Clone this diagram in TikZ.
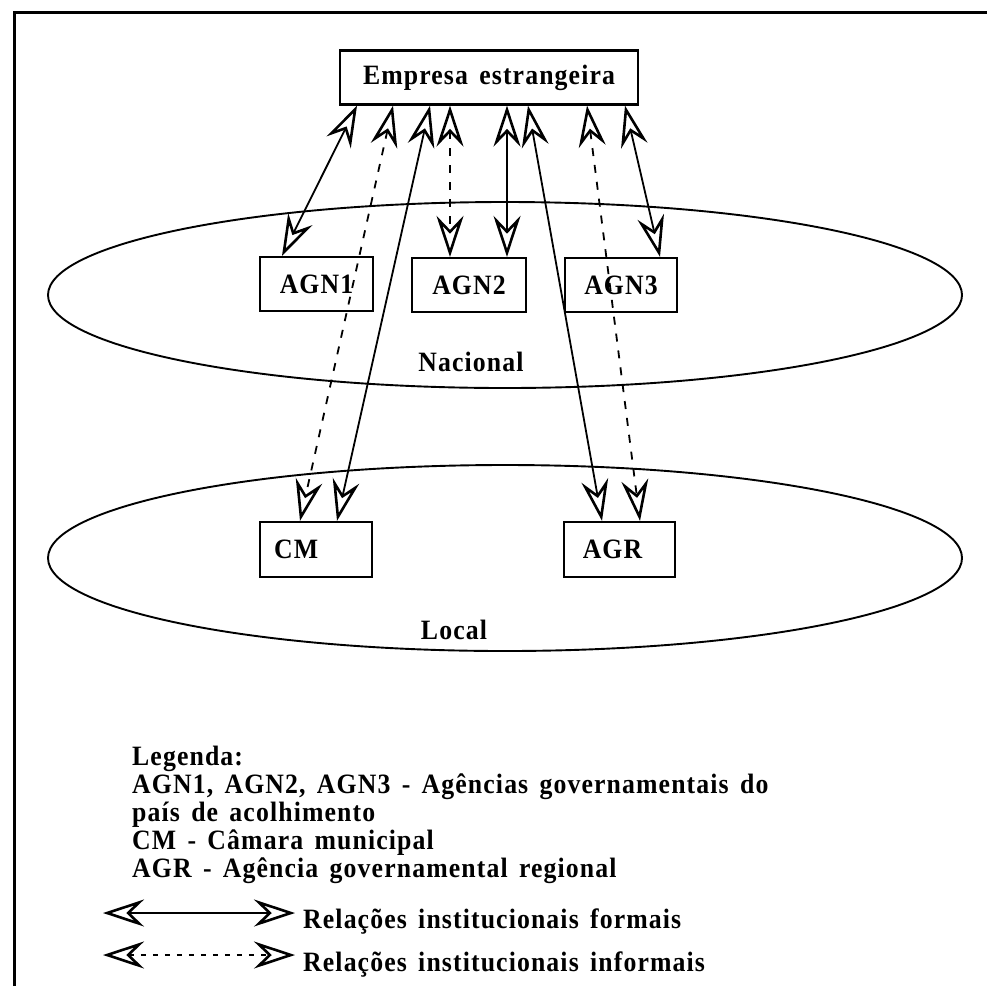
\documentclass[tikz,border=0pt]{standalone}
\usepackage{fontspec}
\newfontfamily\lbl{Liberation Serif}[LetterSpace=4, WordSpace=1.5, FakeStretch=0.92]
\usetikzlibrary{arrows.meta,shapes.geometric}

\tikzset{
  >={Stealth[open, length=41pt, width=27pt, inset=14pt, line width=2.6pt]},
  formal/.style={<->, line width=1.8pt},
  informal/.style={<->, line width=1.8pt, dash pattern=on 8pt off 9pt},
  txt/.style={font=\lbl\bfseries\fontsize{28}{30}\selectfont, inner sep=0pt},
  box/.style={txt, draw, line width=2.3pt, minimum height=54pt},
  level/.style={ellipse, draw, line width=1.9pt, inner sep=0pt,
                minimum width=914pt, minimum height=186pt},
}

\begin{document}
\begin{tikzpicture}[x=1pt, y=-1pt]
\useasboundingbox (0,0) rectangle (987,986);

% frame
\draw[line width=3pt] (14,986) -- (14,12) -- (987,12);

% the two levels
\node[level] (nac) at (505,295) {};
\node[level] (loc) at (505,558) {};
\node[txt] (nactxt) at (471,362) {Nacional};
\node[txt] (loctxt) at (454,630) {Local};

% organisations
\node[box, minimum width=298pt] (emp) at (489,77.5) {Empresa estrangeira};
\node[box, minimum width=113pt] (agn1) at (316.5,284) {AGN1};
\node[box, minimum width=114pt] (agn2) at (469,285) {AGN2};
\node[box, minimum width=112pt] (agn3) at (621,285) {AGN3};
\node[box, minimum width=112pt, minimum height=55pt] (cm) at (316,549.5) {};
\node[txt, anchor=west] (cmtxt) at ([xshift=15pt]cm.west) {CM};
\node[box, minimum width=111pt, minimum height=55pt] (agr) at (619.5,549.5) {};
\node[txt] (agrtxt) at ([xshift=-7pt]agr.center) {AGR};

% relations
\draw[formal]   ([xshift=-132pt]emp.south) -- ([xshift=-34.5pt]agn1.north);
\draw[informal] ([xshift=-96pt]emp.south)  -- ([xshift=-16pt]cm.north);
\draw[formal]   ([xshift=-59pt]emp.south)  -- ([xshift=21pt]cm.north);
\draw[informal] ([xshift=-39pt]emp.south)  -- ([xshift=-19pt]agn2.north);
\draw[formal]   ([xshift=18pt]emp.south)   -- ([xshift=38pt]agn2.north);
\draw[formal]   ([xshift=39pt]emp.south)   -- ([xshift=-17.5pt]agr.north);
\draw[informal] ([xshift=98pt]emp.south)   -- ([xshift=20.5pt]agr.north);
\draw[formal]   ([xshift=136pt]emp.south)  -- ([xshift=39pt]agn3.north);

% legend
\node[txt, anchor=base west] (lg0) at (132,765) {Legenda:};
\node[txt, anchor=base west] (lg1) at (132,793) {AGN1, AGN2, AGN3 - Agências governamentais do};
\node[txt, anchor=base west] (lg2) at (132,821) {país de acolhimento};
\node[txt, anchor=base west] (lg3) at (132,849) {CM - Câmara municipal};
\node[txt, anchor=base west] (lg4) at (132,877) {AGR - Agência governamental regional};

\coordinate (fa) at (103,913);
\coordinate (fb) at (295,913);
\draw[formal] (fa) -- (fb);
\node[txt, anchor=base west] (ftxt) at (303,928) {Relações institucionais formais};

\coordinate (ia) at (103,955);
\coordinate (ib) at (295,955);
\draw[informal, dash pattern=on 5pt off 7pt] (ia) -- (ib);
\node[txt, anchor=base west] (itxt) at (303,971) {Relações institucionais informais};
\end{tikzpicture}
\end{document}
